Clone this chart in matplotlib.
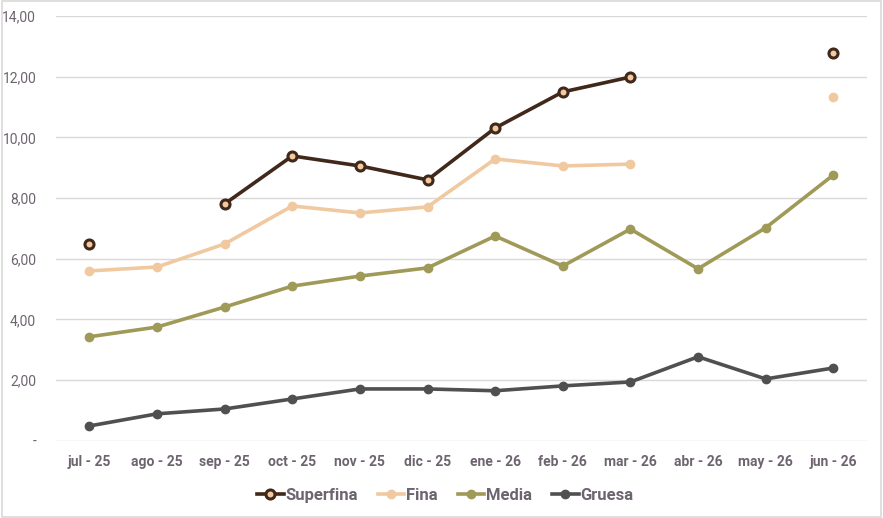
import numpy as np
import matplotlib.pyplot as plt
from matplotlib.patches import Rectangle
from matplotlib.ticker import FuncFormatter

# Data
months = ['jul - 25', 'ago - 25', 'sep - 25', 'oct - 25', 'nov - 25', 'dic - 25',
          'ene - 26', 'feb - 26', 'mar - 26', 'abr - 26', 'may - 26', 'jun - 26']
nan = np.nan
superfina = [6.49, nan, 7.81, 9.39, 9.06, 8.60, 10.31, 11.50, 11.99, nan, nan, 12.78]
fina = [5.60, 5.73, 6.49, 7.74, 7.51, 7.71, 9.29, 9.06, 9.12, nan, nan, 11.33]
media = [3.43, 3.75, 4.41, 5.10, 5.43, 5.70, 6.75, 5.76, 6.98, 5.67, 7.02, 8.76]
gruesa = [0.49, 0.89, 1.05, 1.38, 1.71, 1.71, 1.65, 1.81, 1.94, 2.77, 2.04, 2.40]

text_col = '#6e6470'
plt.rcParams['font.family'] = ['Roboto', 'DejaVu Sans']

fig = plt.figure(figsize=(8.83, 5.18), dpi=100)
ax = fig.add_axes([0.063, 0.149, 0.919, 0.82])
x = np.arange(len(months))

ax.plot(x, superfina, color='#40281a', lw=2.6, marker='o', ms=6.5,
        mfc='#f2cba3', mec='#40281a', mew=2.2, label='Superfina', zorder=5)
ax.plot(x, fina, color='#f0c9a0', lw=2.6, marker='o', ms=6, label='Fina', zorder=4)
ax.plot(x, media, color='#a09a58', lw=2.6, marker='o', ms=6, label='Media', zorder=3)
ax.plot(x, gruesa, color='#505050', lw=2.6, marker='o', ms=6, label='Gruesa', zorder=3)

ax.set_xlim(-0.5, len(months) - 0.5)
ax.set_ylim(0, 14)
ax.set_yticks(np.arange(0, 15, 2))
ax.yaxis.set_major_formatter(FuncFormatter(
    lambda v, p: '-' if v == 0 else f'{v:.2f}'.replace('.', ',')))
ax.set_xticks(x)
ax.set_xticklabels(months, fontweight='bold')
ax.grid(axis='y', color='#d9d9d9', lw=1)
ax.set_axisbelow(True)
for s in ax.spines.values():
    s.set_visible(False)
ax.tick_params(length=0, colors=text_col, labelsize=10)
ax.tick_params(axis='x', pad=10)
ax.tick_params(axis='y', pad=14)

leg = ax.legend(loc='upper center', bbox_to_anchor=(0.48, -0.075), ncol=4, frameon=False,
                prop={'weight': 'bold', 'size': 12}, handlelength=1.6,
                handletextpad=0.1, columnspacing=1.2)
for t in leg.get_texts():
    t.set_color(text_col)

fig.patches.append(Rectangle((0.002, 0.002), 0.996, 0.996, transform=fig.transFigure,
                             fill=False, edgecolor='#d9d9d9', lw=1.2))
fig.savefig('out.png', dpi=100)
